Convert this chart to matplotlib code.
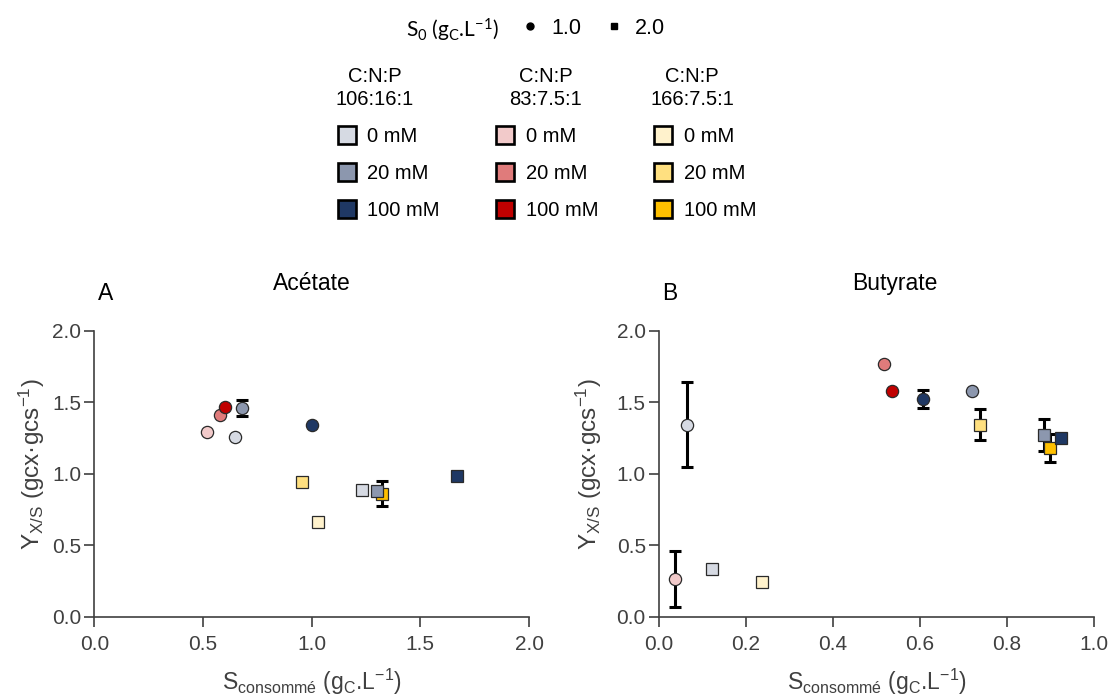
import numpy as np
import matplotlib
matplotlib.use("Agg")
import matplotlib.pyplot as plt
from matplotlib.lines import Line2D

plt.rcParams['font.family'] = ['Liberation Sans', 'DejaVu Sans']
plt.rcParams['mathtext.fontset'] = 'custom'
plt.rcParams['mathtext.rm'] = 'Liberation Sans'
plt.rcParams['mathtext.it'] = 'Liberation Sans'

# ---------------- data ----------------
ratios = ['106:16:1', '83:7.5:1', '166:7.5:1']
concs = ['0 mM', '20 mM', '100 mM']
colors = {
    '106:16:1': ['#D6DAE3', '#8C97AE', '#1F3864'],
    '83:7.5:1': ['#F2CACA', '#E07B7B', '#C00000'],
    '166:7.5:1': ['#FFF2CC', '#FFE080', '#FFC000'],
}
s0_values = ['1.0', '2.0']

# Acetate (panel A): each series = [0 mM, 20 mM, 100 mM]
ac_106_s1_x = [0.647, 0.681, 1.000]
ac_106_s1_y = [1.26, 1.46, 1.345]
ac_106_s1_e = [np.nan, 0.055, np.nan]
ac_83_s1_x = [0.520, 0.578, 0.603]
ac_83_s1_y = [1.29, 1.41, 1.47]
ac_83_s1_e = [np.nan, np.nan, np.nan]
ac_106_s2_x = [1.230, 1.299, 1.667]
ac_106_s2_y = [0.887, 0.880, 0.987]
ac_106_s2_e = [np.nan, np.nan, np.nan]
ac_166_s2_x = [1.028, 0.955, 1.325]
ac_166_s2_y = [0.663, 0.940, 0.861]
ac_166_s2_e = [np.nan, np.nan, 0.0875]

# Butyrate (panel B)
bu_106_s1_x = [0.0644, 0.720, 0.606]
bu_106_s1_y = [1.345, 1.58, 1.524]
bu_106_s1_e = [0.295, np.nan, 0.06]
bu_83_s1_x = [0.0368, 0.5165, 0.5356]
bu_83_s1_y = [0.262, 1.772, 1.58]
bu_83_s1_e = [0.197, np.nan, np.nan]
bu_106_s2_x = [0.1226, 0.886, 0.9234]
bu_106_s2_y = [0.336, 1.27, 1.251]
bu_106_s2_e = [np.nan, 0.113, np.nan]
bu_166_s2_x = [0.236, 0.7387, 0.8996]
bu_166_s2_y = [0.241, 1.345, 1.179]
bu_166_s2_e = [np.nan, 0.108, 0.098]

panels = [
    dict(title='Acétate', letter='A', xlim=(0, 2.0), xticks=[0, 0.5, 1.0, 1.5, 2.0],
         series=[('106:16:1', 'o', ac_106_s1_x, ac_106_s1_y, ac_106_s1_e),
                 ('83:7.5:1', 'o', ac_83_s1_x, ac_83_s1_y, ac_83_s1_e),
                 ('166:7.5:1', 's', ac_166_s2_x, ac_166_s2_y, ac_166_s2_e),
                 ('106:16:1', 's', ac_106_s2_x, ac_106_s2_y, ac_106_s2_e)],
         title_x=0.5, rect=[94.3, 529], ylab_px=47),
    dict(title='Butyrate', letter='B', xlim=(0, 1.0), xticks=[0, 0.2, 0.4, 0.6, 0.8, 1.0],
         series=[('106:16:1', 'o', bu_106_s1_x, bu_106_s1_y, bu_106_s1_e),
                 ('83:7.5:1', 'o', bu_83_s1_x, bu_83_s1_y, bu_83_s1_e),
                 ('166:7.5:1', 's', bu_166_s2_x, bu_166_s2_y, bu_166_s2_e),
                 ('106:16:1', 's', bu_106_s2_x, bu_106_s2_y, bu_106_s2_e)],
         title_x=0.543, rect=[659, 1094], ylab_px=604),
]

# ---------------- figure ----------------
W, H = 1111, 699
fig = plt.figure(figsize=(W / 100, H / 100), dpi=100)
grey = '#404040'
edge = '#2a2a2a'

y_top_px, y_bot_px = 331, 616.7
for p in panels:
    l, r = p['rect']
    ax = fig.add_axes([l / W, 1 - y_bot_px / H, (r - l) / W, (y_bot_px - y_top_px) / H])
    for ratio, mk, xs, ys, es in p['series']:
        for i in range(3):
            if not np.isnan(es[i]):
                ax.errorbar(xs[i], ys[i], yerr=es[i], fmt='none', ecolor='black',
                            elinewidth=2.2, capsize=4.4, capthick=2.2, zorder=2)
        for i in range(3):
            ax.plot(xs[i], ys[i], marker=mk, ls='none', ms=8.8,
                    mfc=colors[ratio][i], mec=edge, mew=0.9, zorder=3)
    ax.set_xlim(*p['xlim'])
    ax.set_ylim(0, 2.0)
    ax.set_xticks(p['xticks'])
    ax.set_yticks([0, 0.5, 1.0, 1.5, 2.0])
    ax.xaxis.set_major_formatter(matplotlib.ticker.FormatStrFormatter('%.1f'))
    ax.yaxis.set_major_formatter(matplotlib.ticker.FormatStrFormatter('%.1f'))
    for s in ['top', 'right']:
        ax.spines[s].set_visible(False)
    for s in ['left', 'bottom']:
        ax.spines[s].set_color(grey)
        ax.spines[s].set_linewidth(1.2)
    ax.tick_params(axis='both', direction='out', length=7.5, width=1.2, color=grey,
                   labelcolor=grey, labelsize=15)
    ax.tick_params(axis='x', pad=6)
    ax.tick_params(axis='y', pad=2)
    ax.set_xlabel('S$_{\\mathregular{consommé}}$ (g$_{\\mathregular{C}}$.L$^{\\mathregular{-1}}$)',
                  fontsize=16.5, color=grey, labelpad=9)
    ax.set_ylabel('Y$_{\\mathregular{X/S}}$ (gcx·gcs$^{\\mathregular{-1}}$)',
                  fontsize=17.5, color=grey)
    ax.yaxis.set_label_coords((p['ylab_px'] - l) / (r - l), (y_bot_px - 464) / (y_bot_px - y_top_px))
    ax.text(p['title_x'], 1.168, p['title'], transform=ax.transAxes, ha='center',
            va='center', fontsize=16.5, color='black')
    ax.text(0.025, 1.133, p['letter'], transform=ax.transAxes, ha='center',
            va='center', fontsize=16.5, color='black')

# ---------------- legends ----------------
fig.text(452 / W, 1 - 30 / H, 'S$_{\\mathregular{0}}$ (g$_{\\mathregular{C}}$.L$^{\\mathregular{-1}}$)',
         ha='center', va='center', fontsize=15, color='black', family=['Lato', 'DejaVu Sans'])
s0_handles = [Line2D([], [], marker='o', ls='none', ms=5, color='black'),
              Line2D([], [], marker='s', ls='none', ms=5, color='black')]
fig.legend(s0_handles, s0_values, loc='center left', bbox_to_anchor=(519 / W, 1 - 28 / H),
           ncol=2, frameon=False, fontsize=15.5, handlelength=1.0, handletextpad=0.5,
           columnspacing=1.0, borderpad=0, borderaxespad=0)

col_centers = [375, 545.7, 692]
col_lefts = [337, 495.3, 653.3]
for ratio, cx, lx in zip(ratios, col_centers, col_lefts):
    fig.text(cx / W, 1 - 88 / H, 'C:N:P\n' + ratio, ha='center', va='center',
             fontsize=14.5, linespacing=1.3, color='black')
    handles = [Line2D([], [], marker='s', ls='none', ms=12.5, mfc=c, mec='black', mew=1.9)
               for c in colors[ratio]]
    fig.legend(handles, concs, loc='upper left', bbox_to_anchor=(lx / W, 1 - 127.5 / H),
               frameon=False, fontsize=14.5, handlelength=1.0, handletextpad=0.5,
               labelspacing=0.88, borderpad=0, borderaxespad=0)

fig.savefig('out.png', dpi=100)
